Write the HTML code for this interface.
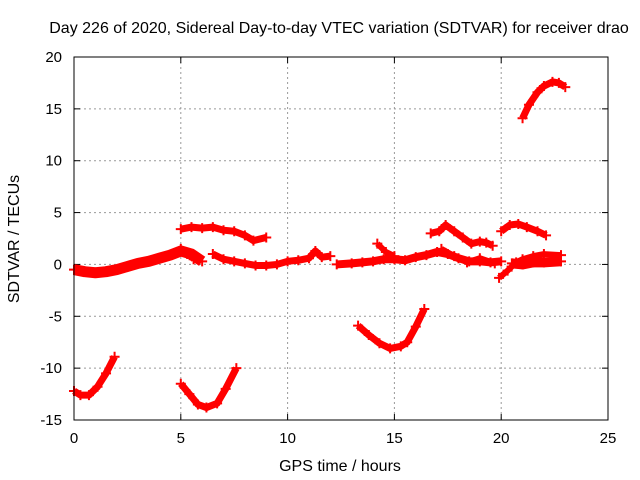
<!DOCTYPE html>
<html><head><meta charset="utf-8"><style>
body{margin:0;background:#fff}
svg{display:block;font-family:"Liberation Sans",sans-serif}
</style></head><body>
<svg id="chart" width="640" height="480" viewBox="0 0 640 480" xmlns="http://www.w3.org/2000/svg">
<text x="339" y="33" font-size="16" text-anchor="middle">Day 226 of 2020, Sidereal Day-to-day VTEC variation (SDTVAR) for receiver drao</text>
<text x="340" y="471" font-size="16" text-anchor="middle">GPS time / hours</text>
<text transform="translate(19,239) rotate(-90)" font-size="16" text-anchor="middle">SDTVAR / TECUs</text>
<g id="grid"></g>
<g id="ticks"></g>
<g id="series"></g>
<rect x="74" y="57" width="534" height="363" fill="none" stroke="#000" stroke-width="1"/>
</svg>
<script>
const xTicks=[0,5,10,15,20,25];
const yTicks=[-15,-10,-5,0,5,10,15,20];
const segA=[[0,-0.5],[0.5,-0.7],[1,-0.8],[1.5,-0.7],[2,-0.5],[2.5,-0.2],[3,0.1],[3.5,0.3],[4,0.6],[4.5,0.9],[5,1.3],[5.5,1.0],[6,0.3]];
const segA2=[[5,1.5],[5.3,1.0],[5.6,0.5]];
const segB=[[0,-12.2],[0.3,-12.6],[0.7,-12.6],[1.1,-11.8],[1.5,-10.5],[1.9,-8.9]];
const segC=[[5,-11.5],[5.4,-12.5],[5.8,-13.5],[6.2,-13.8],[6.7,-13.4],[7.1,-12],[7.6,-10]];
const segD=[[5,3.4],[5.5,3.6],[6,3.5],[6.5,3.6],[7,3.3],[7.5,3.2],[8,2.8],[8.4,2.3],[9,2.6]];
const segE=[[6.5,1.0],[7,0.5],[7.5,0.3],[8,0.1],[8.5,-0.1],[9,-0.1],[9.5,0.0],[10,0.3],[10.5,0.4],[11,0.6],[11.3,1.3],[11.6,0.7],[12,0.8]];
const segF=[[12.3,0.0],[13,0.1],[13.5,0.2],[14,0.3],[14.5,0.5],[15,0.5],[15.5,0.4],[16,0.7],[16.5,0.9],[17,1.2],[17.5,1.0],[18,0.6],[18.5,0.3],[19,0.3],[19.5,0.2],[20,0.3]];
const segF2=[[14.2,2.0],[14.6,1.2],[15,0.8]];
const segF3=[[17.2,1.5],[17.8,0.8],[18.4,0.2],[19,0.6],[19.7,0.1]];
const segG=[[13.3,-5.9],[13.8,-6.8],[14.3,-7.6],[14.8,-8.1],[15.3,-7.9],[15.6,-7.5],[16,-6],[16.4,-4.3]];
const segH=[[16.7,3.0],[17.1,3.2],[17.4,3.8],[17.8,3.2],[18.2,2.6],[18.6,2.0],[19.0,2.2],[19.3,2.1],[19.6,1.8]];
const segI=[[20.0,3.2],[20.4,3.8],[20.8,3.9],[21.2,3.6],[21.7,3.2],[22.1,2.8]];
const segJ=[[19.9,-1.3],[20.3,-0.6],[20.7,0.2],[21,0.5],[21.5,0.8],[22,1.0],[22.8,0.9]];
const segJ2=[[20.5,0.1],[21,0.0],[21.5,0.2],[22,0.2],[22.8,0.3]];
const segK=[[21.0,14.1],[21.3,15.4],[21.7,16.6],[22.0,17.2],[22.4,17.6],[22.7,17.5],[23.0,17.1]];
const segments=[segA,segA2,segB,segC,segD,segE,segF,segF2,segF3,segG,segH,segI,segJ,segJ2,segK];
const widths=[11,6,7,7,7,7,8,6,6,7,7,7,6,10,7];
const X=v=>74+v*534/25, Y=v=>420-(v+15)*363/35;
const NS="http://www.w3.org/2000/svg";
const mk=(t,a,p)=>{const e=document.createElementNS(NS,t);for(const k in a)e.setAttribute(k,a[k]);p.appendChild(e);return e;};
const grid=document.getElementById('grid'),ticks=document.getElementById('ticks'),ser=document.getElementById('series');
xTicks.forEach(t=>{
 if(t>0&&t<25){const l=mk('line',{x1:X(t),x2:X(t),y1:57,y2:420,stroke:'#999','stroke-dasharray':'2,3'},grid);
 
 }
 const tx=mk('text',{x:X(t),y:443,'font-size':15,'text-anchor':'middle'},ticks);tx.textContent=t;
 
 
 mk('line',{x1:X(t),x2:X(t),y1:420,y2:414,stroke:'#000'},ticks);mk('line',{x1:X(t),x2:X(t),y1:57,y2:63,stroke:'#000'},ticks);
});
yTicks.forEach(t=>{
 if(t>-15&&t<20){const l=mk('line',{x1:74,x2:608,y1:Y(t),y2:Y(t),stroke:'#999','stroke-dasharray':'2,3'},grid);
 
 }
 const tx=mk('text',{x:62,y:Y(t)+5,'font-size':15,'text-anchor':'end'},ticks);tx.textContent=t;
 
 
 mk('line',{x1:74,x2:80,y1:Y(t),y2:Y(t),stroke:'#000'},ticks);mk('line',{x1:608,x2:602,y1:Y(t),y2:Y(t),stroke:'#000'},ticks);
});
segments.forEach((s,i)=>{
 const pl=mk('polyline',{points:s.map(p=>X(p[0])+','+Y(p[1])).join(' '),fill:'none',stroke:'#f00','stroke-width':widths[i],'stroke-linejoin':'round'},ser);
 
 
 s.forEach(p=>{const x=X(p[0]),y=Y(p[1]);
  const m=mk('path',{d:`M${x-5},${y}H${x+5}M${x},${y-5}V${y+5}`,stroke:'#f00','stroke-width':2},ser);
  
  });
});
</script>
</body></html>
